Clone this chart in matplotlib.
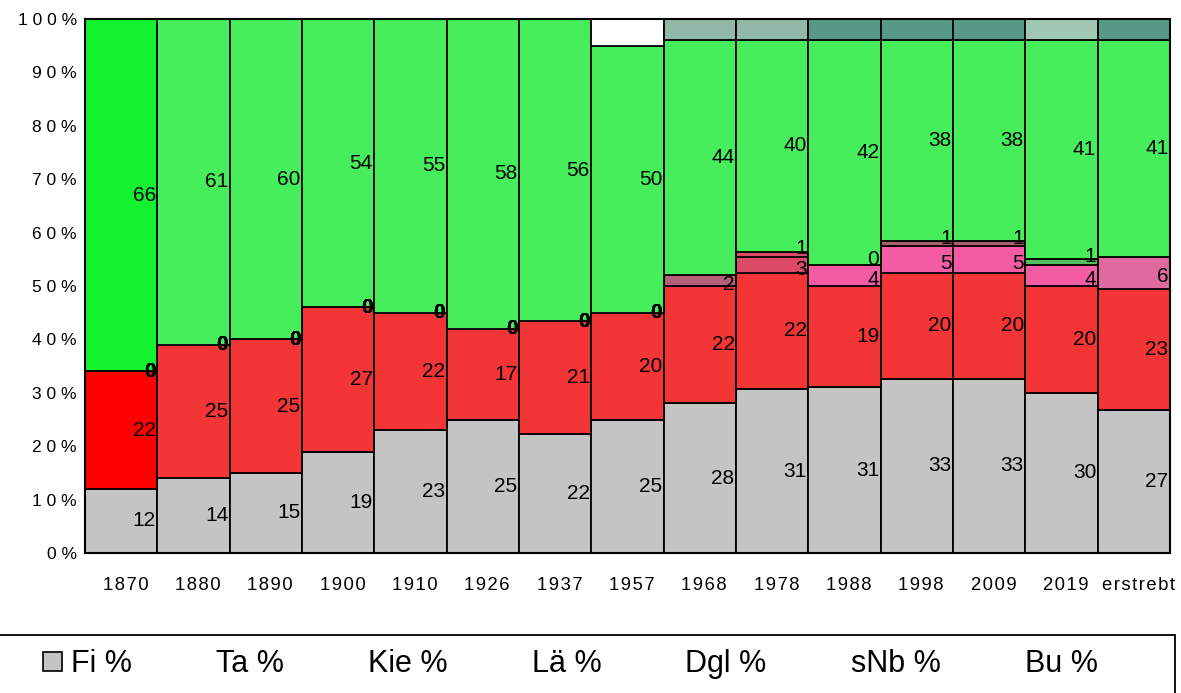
import numpy as np
import matplotlib
matplotlib.use('Agg')
import matplotlib.pyplot as plt
from matplotlib.patches import Patch, Rectangle

plt.rcParams['font.family'] = ['Liberation Sans', 'DejaVu Sans']

nan = np.nan
jahre = ['1870', '1880', '1890', '1900', '1910', '1926', '1937', '1957',
         '1968', '1978', '1988', '1998', '2009', '2019', 'erstrebt']

# Anteile je Baumart in %
fi = [12, 14, 15, 19, 23, 25, 22, 25, 28, 31, 31, 33, 33, 30, 27]
ta = [22, 25, 25, 27, 22, 17, 21, 20, 22, 22, 19, 20, 20, 20, 23]
kie = [0, 0, 0, 0, 0, 0, 0, 0, 2, 3, 4, 5, 5, 4, 6]
lae = [0, 0, 0, 0, 0, 0, 0, 0, nan, 1, 0, 1, 1, 1, nan]
dgl = [0, 0, 0, 0, 0, 0, 0, 0, nan, nan, nan, nan, nan, nan, nan]
snb = [0, 0, 0, 0, 0, 0, 0, 0, nan, nan, nan, nan, nan, nan, nan]
bu = [66, 61, 60, 54, 55, 58, 56, 50, 44, 40, 42, 38, 38, 41, 41]
rest = [0, 0, 0, 0, 0, 0, 0, 5, 4, 4, 4, 4, 4, 4, 4]  # oberer Streifen, ohne Beschriftung

legend_labels = ['Fi %', 'Ta %', 'Kie %', 'Lä %', 'Dgl %', 'sNb %', 'Bu %']

# Farben je Balken
grau = ['#C4C4C4'] * 15
rot = ['#FF0000'] + ['#F33535'] * 14
kie_col = ['#F35BA5'] * 8 + ['#B4607A', '#DB4A66', '#F35BA5', '#F35BA5', '#F35BA5', '#F35BA5', '#E069A0']
lae_col = ['#55BF5E'] * 9 + ['#DB4A66', '#55BF5E', '#A86070', '#A86070', '#55BF5E', '#55BF5E']
dgl_col = ['#55BF5E'] * 15
snb_col = ['#55BF5E'] * 15
gruen = ['#12F22F'] + ['#45EE5A'] * 14
rest_col = ['#FFFFFF'] * 8 + ['#92B8A8', '#92B8A8', '#569A85', '#569A85', '#569A85', '#A0C8B4', '#569A85']

series = [fi, ta, kie, lae, dgl, snb, bu, rest]
colors = [grau, rot, kie_col, lae_col, dgl_col, snb_col, gruen, rest_col]
label_dy = [0, 0, -3, 4, 0, 0, 0]  # kleine Verschiebung der Beschriftung (pt)

data = np.array(series, dtype=float)
vals = np.nan_to_num(data)
totals = vals.sum(axis=0)
pct = vals / totals * 100

x = np.arange(len(jahre))

fig = plt.figure(figsize=(11.81, 6.93), dpi=100)
ax = fig.add_axes([85 / 1181, 1 - 553 / 693, 1085 / 1181, 534 / 693])

bottom = np.zeros(len(jahre))
for k, (p, col) in enumerate(zip(pct, colors)):
    ax.bar(x, p, width=1.0, bottom=bottom, color=col, edgecolor='black',
           linewidth=1.3, zorder=2)
    if k < 7:
        for i in range(len(jahre)):
            v = data[k, i]
            if np.isnan(v):
                continue
            small = data[2:6, i]
            bold = v == 0 and np.sum(small == 0) > 1
            dy = label_dy[k] if i >= 8 else 0
            ax.annotate('%d' % v, xy=(i + 0.48, bottom[i] + p[i] / 2),
                        xytext=(0, dy), textcoords='offset points',
                        ha='right', va='center', fontsize=15,
                        fontweight='bold' if bold else 'normal', zorder=5)
    bottom += p

ax.set_xlim(-0.5, len(jahre) - 0.5)
ax.set_ylim(0, 100)
ax.set_yticks(np.arange(0, 101, 10))
ax.set_yticklabels([' '.join(str(t)) + ' %' for t in range(0, 101, 10)], fontsize=12.5)
ax.set_xticks(x + 0.06)
ax.set_xticklabels(['\u200a'.join(j) for j in jahre], fontsize=13.3)
ax.tick_params(axis='both', length=0)
ax.tick_params(axis='y', pad=6)
ax.tick_params(axis='x', pad=17)
for s in ax.spines.values():
    s.set_linewidth(1.5)
    s.set_zorder(3)

# Legende
handles = [Patch(facecolor='#C4C4C4', edgecolor='black', linewidth=1.2)]
handles += [Patch(facecolor='none', edgecolor='none') for _ in legend_labels[1:]]
fig.legend(handles, legend_labels, ncol=7, loc='center', bbox_to_anchor=(0.483, 1 - 664 / 693),
           frameon=False, fontsize=22, handlelength=0.6, handleheight=0.6,
           handletextpad=0.3, columnspacing=1.85)
fig.patches.append(Rectangle((-0.01, -0.1), 0.01 + 1175 / 1181, 0.1 + 58 / 693,
                             transform=fig.transFigure, fill=False, edgecolor='black',
                             linewidth=1.3, clip_on=False))

fig.savefig('out.png', dpi=100)
